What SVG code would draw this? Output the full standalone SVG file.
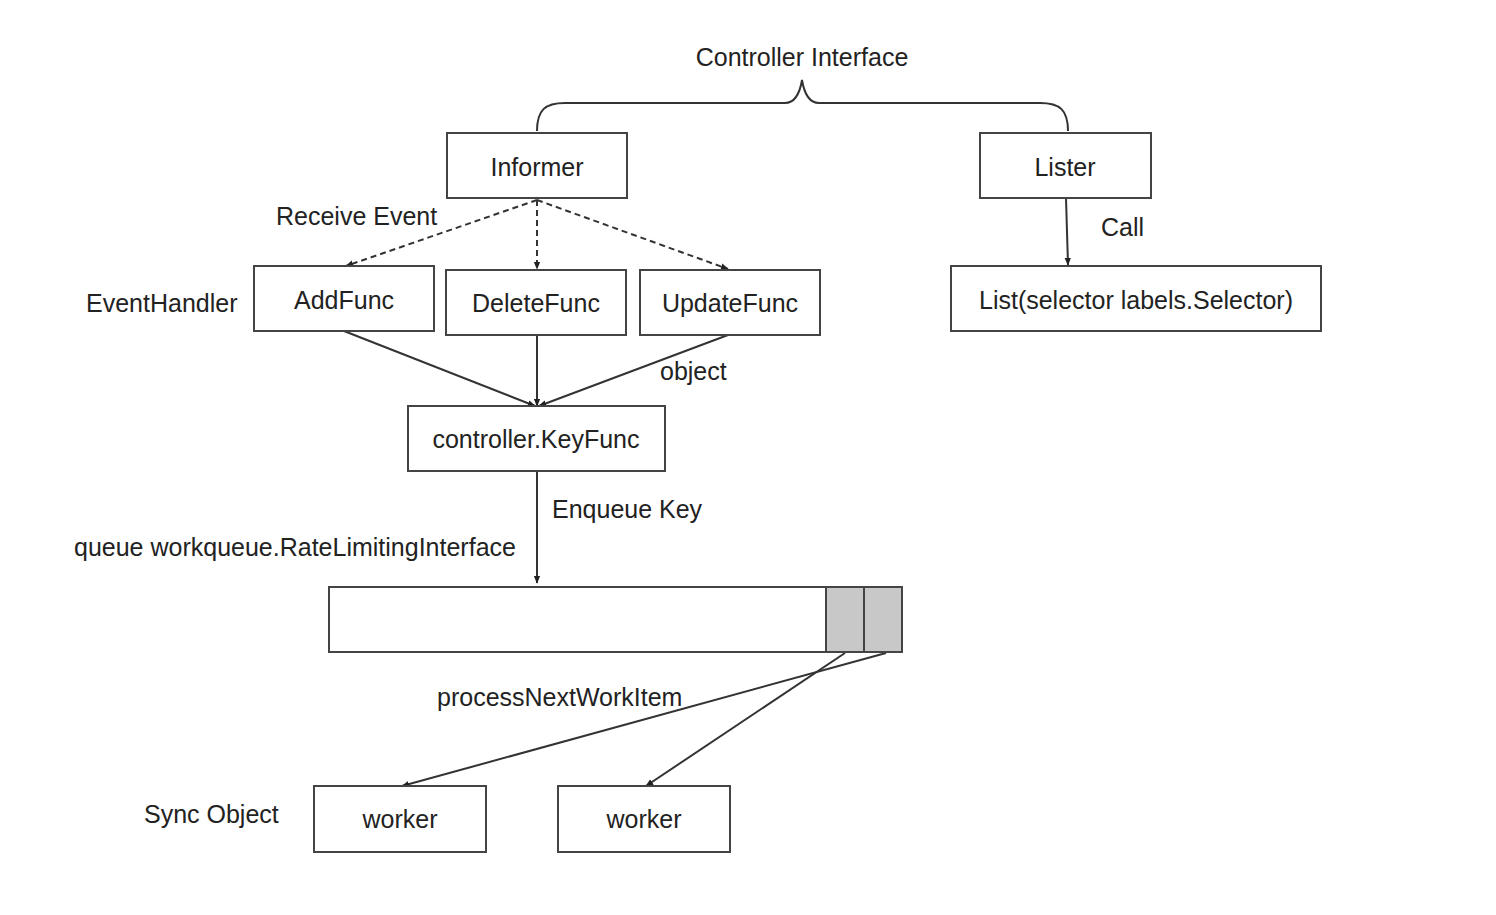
<svg xmlns="http://www.w3.org/2000/svg" width="1496" height="915" viewBox="0 0 1496 915">
<style>
.box{fill:#fff;stroke:#444;stroke-width:2}
.t{font-family:"Liberation Sans",Arial,sans-serif;font-size:25px;fill:#222}
.m{text-anchor:middle}
.c{fill:none;stroke:#333;stroke-width:2}
.d{stroke-dasharray:6 4}
</style>
<defs>
<marker id="ah" viewBox="0 0 10 10" refX="9" refY="5" markerWidth="8" markerHeight="8" markerUnits="userSpaceOnUse" orient="auto">
<path d="M0,1 L10,5 L0,9 Z" fill="#222"/>
</marker>
</defs>
<rect width="1496" height="915" fill="#fff"/>
<text class="t m" x="802" y="66">Controller Interface</text>
<path class="c" d="M537,131 C537,110 545,103 565,103 L785,103 C795,103 800,92 802,80 C804,92 809,103 819,103 L1040,103 C1060,103 1068,110 1068,131"/>
<g id="connectors">
<line class="c d" x1="537" y1="200" x2="346" y2="266" marker-end="url(#ah)"/>
<line class="c d" x1="537" y1="200" x2="537" y2="269" marker-end="url(#ah)"/>
<line class="c d" x1="537" y1="200" x2="728" y2="269" marker-end="url(#ah)"/>
<line class="c" x1="344" y1="331" x2="535" y2="406" marker-end="url(#ah)"/>
<line class="c" x1="537" y1="335" x2="537" y2="406" marker-end="url(#ah)"/>
<line class="c" x1="728" y1="335" x2="539" y2="406" marker-end="url(#ah)"/>
<line class="c" x1="537" y1="471" x2="537" y2="583" marker-end="url(#ah)"/>
<line class="c" x1="886" y1="653" x2="402" y2="786" marker-end="url(#ah)"/>
<line class="c" x1="845" y1="653" x2="646" y2="786" marker-end="url(#ah)"/>
<line class="c" x1="1066" y1="198" x2="1068" y2="265" marker-end="url(#ah)"/>
</g>
<text class="t" x="276" y="225">Receive Event</text>
<text class="t" x="86" y="312">EventHandler</text>
<text class="t" x="660" y="380">object</text>
<text class="t" x="552" y="518">Enqueue Key</text>
<text class="t" x="74" y="556">queue workqueue.RateLimitingInterface</text>
<text class="t" x="437" y="706">processNextWorkItem</text>
<text class="t" x="144" y="823">Sync Object</text>
<text class="t" x="1101" y="236">Call</text>
<g id="informer"><rect class="box" x="447" y="133" width="180" height="65"/><text class="t m" x="537" y="176">Informer</text></g>
<g id="lister"><rect class="box" x="980" y="133" width="171" height="65"/><text class="t m" x="1065" y="176">Lister</text></g>
<g id="addfunc"><rect class="box" x="254" y="266" width="180" height="65"/><text class="t m" x="344" y="309">AddFunc</text></g>
<g id="deletefunc"><rect class="box" x="446" y="270" width="180" height="65"/><text class="t m" x="536" y="312">DeleteFunc</text></g>
<g id="updatefunc"><rect class="box" x="640" y="270" width="180" height="65"/><text class="t m" x="730" y="312">UpdateFunc</text></g>
<g id="list"><rect class="box" x="951" y="266" width="370" height="65"/><text class="t m" x="1136" y="309">List(selector labels.Selector)</text></g>
<g id="keyfunc"><rect class="box" x="408" y="406" width="257" height="65"/><text class="t m" x="536" y="448">controller.KeyFunc</text></g>
<g id="queue"><rect class="box" x="329" y="587" width="573" height="65"/><rect x="826" y="587" width="38" height="65" fill="#c8c8c8" stroke="#444" stroke-width="2"/><rect x="864" y="587" width="38" height="65" fill="#c8c8c8" stroke="#444" stroke-width="2"/></g>
<g id="worker1"><rect class="box" x="314" y="786" width="172" height="66"/><text class="t m" x="400" y="828">worker</text></g>
<g id="worker2"><rect class="box" x="558" y="786" width="172" height="66"/><text class="t m" x="644" y="828">worker</text></g>
</svg>
